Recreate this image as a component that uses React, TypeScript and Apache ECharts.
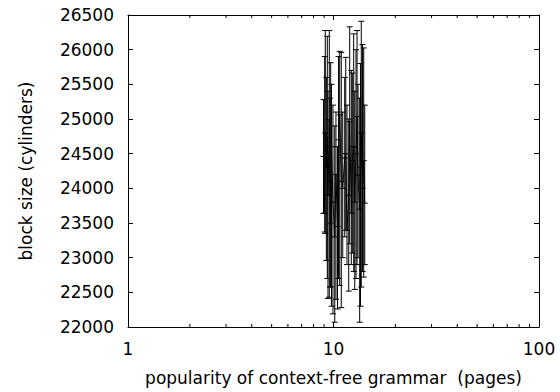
import React, { useEffect, useRef } from "react";
import * as echarts from "echarts";

// popularity of context-free grammar (pages)
const xValues = [8.94, 9.06, 9.12, 9.23, 9.33, 9.4, 9.54, 9.62, 9.69, 9.78, 9.94, 10.14, 10.28, 10.46, 10.58, 10.72, 10.91, 11.09, 11.34, 11.47, 11.63, 11.86, 11.99, 12.21, 12.35, 12.54, 12.69, 12.87, 13.02, 13.16, 13.41, 13.53, 13.65, 13.84, 14.03, 14.19];
// block size (cylinders): centre values
const yValues = [24460, 23640, 24800, 24300, 24732, 23900, 24988, 24100, 23500, 24600, 23800, 23300, 24200, 23450, 24700, 25060, 24100, 24000, 24438, 24500, 23396, 23900, 24963, 23642, 24400, 24600, 23800, 24500, 25036, 24190, 23700, 24300, 24800, 24000, 24400, 23786];
// error-bar lower ends
const yLow = [23640, 23370, 23350, 22960, 22700, 22412, 22430, 22576, 22580, 22300, 22190, 22069, 22400, 22260, 22700, 22600, 22280, 23000, 23300, 23396, 22900, 22518, 23200, 22900, 23067, 22800, 22542, 22700, 22900, 23000, 22069, 22300, 22576, 22800, 22720, 22900];
// error-bar upper ends
const yHigh = [25280, 25900, 26276, 25600, 26193, 25400, 26276, 25300, 25812, 25500, 25200, 24900, 25100, 24600, 25900, 25976, 25960, 25100, 25600, 25889, 25200, 25000, 26329, 25700, 25663, 26228, 25400, 26000, 26276, 25500, 25300, 25800, 26410, 26073, 26025, 25200];

const xMinorTicks = [2, 3, 4, 5, 6, 7, 8, 9, 20, 30, 40, 50, 60, 70, 80, 90];
const xMajorTickLabels = ["1", "10", "100"];

const FONT = "DejaVu Sans";
const FS = 17;

export default function App() {
  const ref = useRef<HTMLDivElement>(null);

  useEffect(() => {
    if (!ref.current) return;
    const chart = echarts.init(ref.current, undefined, { renderer: "svg" });

    const lineData = xValues.map((x, i) => [x, yValues[i]]);
    const errData = xValues.map((x, i) => [x, yLow[i], yHigh[i], yValues[i]]);
    const minorData = xMinorTicks.map((v) => [v, 22000]);

    const axisCommon = {
      axisLine: { show: true, lineStyle: { color: "#000", width: 1 } },
      splitLine: { show: false },
    };
    const tick = { show: true, inside: true, length: 5, lineStyle: { color: "#000" } };

    chart.setOption({
      animation: false,
      backgroundColor: "#fff",
      grid: {
        left: 128,
        right: 21,
        top: 15,
        bottom: 65,
        containLabel: false,
        outerBoundsMode: "none",
      },
      xAxis: [
        {
          type: "log",
          logBase: 10,
          min: 1,
          max: 100,
          position: "bottom",
          name: "popularity of context-free grammar  (pages)",
          nameLocation: "middle",
          nameGap: 42,
          nameTextStyle: { fontFamily: FONT, fontSize: FS, color: "#000" },
          ...axisCommon,
          axisTick: tick,
          axisLabel: {
            show: true,
            margin: 13,
            fontFamily: FONT,
            fontSize: FS,
            color: "#000",
            formatter: (v: number) => {
              const e = Math.round(Math.log10(v));
              return xMajorTickLabels[e] ?? String(v);
            },
          },
        },
        {
          type: "log",
          logBase: 10,
          min: 1,
          max: 100,
          position: "top",
          ...axisCommon,
          axisTick: tick,
          axisLabel: { show: false },
        },
      ],
      yAxis: [
        {
          type: "value",
          min: 22000,
          max: 26500,
          interval: 500,
          position: "left",
          name: "block size (cylinders)",
          nameLocation: "middle",
          nameGap: 94,
          nameRotate: 90,
          nameTextStyle: { fontFamily: FONT, fontSize: FS, color: "#000" },
          ...axisCommon,
          axisTick: tick,
          axisLabel: {
            show: true,
            margin: 14,
            fontFamily: FONT,
            fontSize: FS,
            color: "#000",
            formatter: (v: number) => String(v),
          },
        },
        {
          type: "value",
          min: 22000,
          max: 26500,
          interval: 500,
          position: "right",
          ...axisCommon,
          axisTick: tick,
          axisLabel: { show: false },
        },
      ],
      series: [
        {
          type: "line",
          xAxisIndex: 0,
          yAxisIndex: 0,
          data: lineData,
          symbol: "none",
          lineStyle: { color: "#000", width: 1 },
          z: 3,
        },
        {
          type: "custom",
          xAxisIndex: 0,
          yAxisIndex: 0,
          data: errData,
          encode: { x: 0, y: [1, 2, 3] },
          z: 4,
          renderItem: (params: any, api: any) => {
            const x = api.value(0);
            const lo = api.coord([x, api.value(1)]);
            const hi = api.coord([x, api.value(2)]);
            const c = api.coord([x, api.value(3)]);
            const w = 3;
            const style = { stroke: "#000", lineWidth: 1 };
            return {
              type: "group",
              children: [
                { type: "line", shape: { x1: lo[0], y1: lo[1], x2: hi[0], y2: hi[1] }, style },
                { type: "line", shape: { x1: lo[0] - w, y1: lo[1], x2: lo[0] + w, y2: lo[1] }, style },
                { type: "line", shape: { x1: hi[0] - w, y1: hi[1], x2: hi[0] + w, y2: hi[1] }, style },
                { type: "line", shape: { x1: c[0] - w, y1: c[1], x2: c[0] + w, y2: c[1] }, style },
              ],
            };
          },
        },
        {
          type: "custom",
          xAxisIndex: 0,
          yAxisIndex: 0,
          data: minorData,
          silent: true,
          z: 5,
          renderItem: (params: any, api: any) => {
            const p = api.coord([api.value(0), api.value(1)]);
            const cs = params.coordSys;
            const top = cs.y;
            const bottom = cs.y + cs.height;
            const len = 3;
            const style = { stroke: "#000", lineWidth: 1 };
            return {
              type: "group",
              children: [
                { type: "line", shape: { x1: p[0], y1: bottom, x2: p[0], y2: bottom - len }, style },
                { type: "line", shape: { x1: p[0], y1: top, x2: p[0], y2: top + len }, style },
              ],
            };
          },
        },
      ],
    });

    return () => chart.dispose();
  }, []);

  return (
    <div
      ref={ref}
      style={{ position: "fixed", left: 0, top: 0, width: 560, height: 392, background: "#fff" }}
    />
  );
}
